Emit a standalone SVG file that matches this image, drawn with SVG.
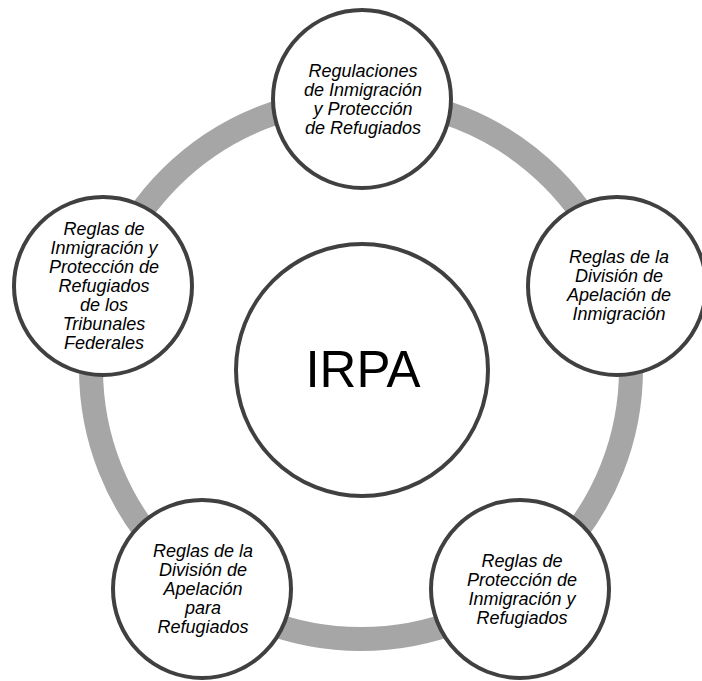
<svg xmlns="http://www.w3.org/2000/svg" width="702" height="681" viewBox="0 0 702 681">
  <style>
    .ring { fill: none; stroke: #a6a6a6; stroke-width: 24; }
    .node { fill: #ffffff; stroke: #404040; stroke-width: 4; }
    .lbl { font-family: "Liberation Sans", Arial, sans-serif; font-size: 18px; font-style: italic; fill: #000000; text-anchor: middle; }
    .hub { font-family: "Liberation Sans", Arial, sans-serif; font-size: 51px; fill: #000000; text-anchor: middle; }
  </style>
  <rect width="702" height="681" fill="#ffffff"/>

  <!-- cycle ring joining the outer nodes -->
  <g id="connectors">
    <circle class="ring" cx="361" cy="369" r="270"/>
  </g>

  <!-- central node -->
  <g id="irpa">
    <circle class="node" cx="362" cy="370" r="126"/>
    <text class="hub" x="363" y="387">IRPA</text>
  </g>

  <g id="regulaciones">
    <circle class="node" cx="362" cy="99" r="89"/>
    <text class="lbl" x="363" y="77">Regulaciones</text>
    <text class="lbl" x="363" y="96">de Inmigración</text>
    <text class="lbl" x="363" y="115">y Protección</text>
    <text class="lbl" x="363" y="134">de Refugiados</text>
  </g>

  <g id="division-inmigracion">
    <circle class="node" cx="617" cy="286" r="89"/>
    <text class="lbl" x="619" y="263">Reglas de la</text>
    <text class="lbl" x="619" y="282">División de</text>
    <text class="lbl" x="619" y="301">Apelación de</text>
    <text class="lbl" x="619" y="320">Inmigración</text>
  </g>

  <g id="reglas-proteccion">
    <circle class="node" cx="520" cy="589" r="89"/>
    <text class="lbl" x="522" y="567">Reglas de</text>
    <text class="lbl" x="522" y="586">Protección de</text>
    <text class="lbl" x="522" y="605">Inmigración y</text>
    <text class="lbl" x="522" y="624">Refugiados</text>
  </g>

  <g id="division-refugiados">
    <circle class="node" cx="202" cy="589" r="89"/>
    <text class="lbl" x="203" y="557">Reglas de la</text>
    <text class="lbl" x="203" y="576">División de</text>
    <text class="lbl" x="203" y="595">Apelación</text>
    <text class="lbl" x="203" y="614">para</text>
    <text class="lbl" x="203" y="633">Refugiados</text>
  </g>

  <g id="tribunales-federales">
    <circle class="node" cx="103" cy="286" r="89"/>
    <text class="lbl" x="104" y="235">Reglas de</text>
    <text class="lbl" x="104" y="254">Inmigración y</text>
    <text class="lbl" x="104" y="273">Protección de</text>
    <text class="lbl" x="104" y="292">Refugiados</text>
    <text class="lbl" x="104" y="311">de los</text>
    <text class="lbl" x="104" y="330">Tribunales</text>
    <text class="lbl" x="104" y="349">Federales</text>
  </g>
</svg>
